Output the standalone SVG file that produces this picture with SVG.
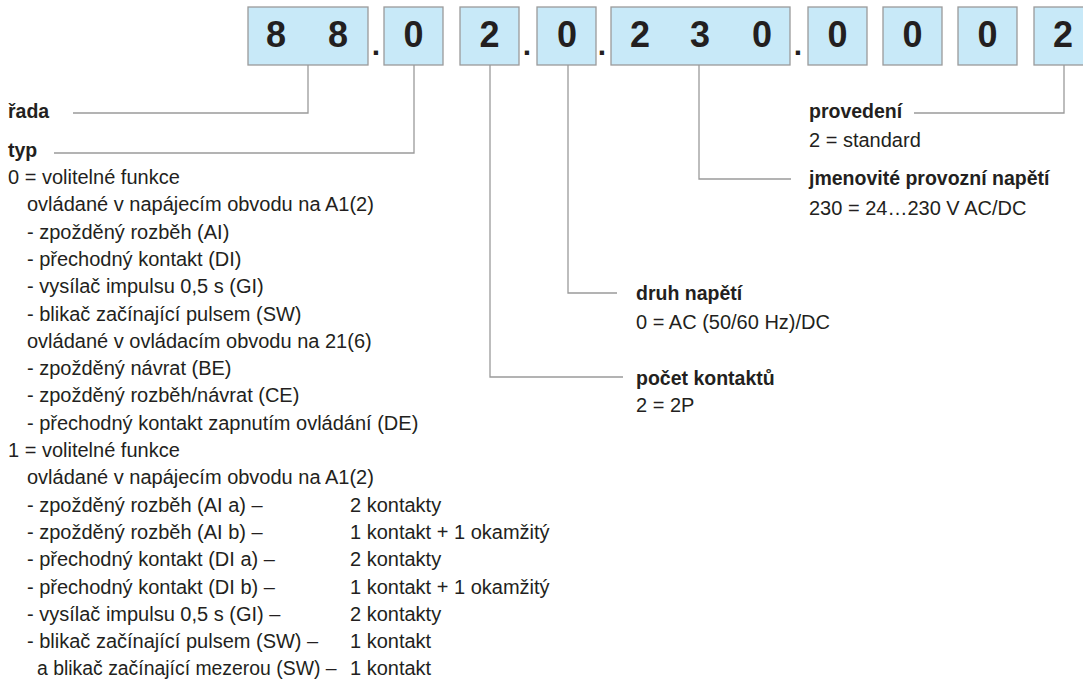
<svg xmlns="http://www.w3.org/2000/svg" width="1083" height="697" viewBox="0 0 1083 697">
<style>
.box{fill:#c8e9f8;stroke:#9a9a9a;stroke-width:1.3}
.dg{font-family:"Liberation Sans",Arial,sans-serif;font-weight:bold;font-size:36px;fill:#231f20;text-anchor:middle}
.dot{font-family:"Liberation Sans",Arial,sans-serif;font-weight:bold;font-size:30px;fill:#231f20;text-anchor:middle}
.t{font-family:"Liberation Sans",Arial,sans-serif;font-size:20px;fill:#231f20}
.b{font-family:"Liberation Sans",Arial,sans-serif;font-size:19.5px;font-weight:bold;fill:#231f20}
.ln{fill:none;stroke:#9a9a9a;stroke-width:1.3}
</style>
<rect width="1083" height="697" fill="#ffffff"/>
<g id="code">
<g id="box-88"><rect class="box" x="248" y="7" width="120" height="58"/><text class="dg" x="276" y="47">8</text><text class="dg" x="338" y="47">8</text></g>
<text class="dot" x="376" y="55">.</text>
<g id="box-typ"><rect class="box" x="384" y="7" width="59" height="58"/><text class="dg" x="413.5" y="47">0</text></g>
<g id="box-pocet"><rect class="box" x="460" y="7" width="59" height="58"/><text class="dg" x="489.5" y="47">2</text></g>
<text class="dot" x="527" y="55">.</text>
<g id="box-druh"><rect class="box" x="537" y="7" width="59" height="58"/><text class="dg" x="567" y="47">0</text></g>
<text class="dot" x="602" y="55">.</text>
<g id="box-230"><rect class="box" x="611" y="7" width="179" height="58"/><text class="dg" x="640" y="47">2</text><text class="dg" x="700" y="47">3</text><text class="dg" x="762" y="47">0</text></g>
<text class="dot" x="798" y="55">.</text>
<g id="box-0a"><rect class="box" x="808" y="7" width="59" height="58"/><text class="dg" x="837.5" y="47">0</text></g>
<g id="box-0b"><rect class="box" x="883" y="7" width="59" height="58"/><text class="dg" x="912.5" y="47">0</text></g>
<g id="box-0c"><rect class="box" x="958" y="7" width="59" height="58"/><text class="dg" x="987.5" y="47">0</text></g>
<g id="box-prov"><rect class="box" x="1034" y="7" width="59" height="58"/><text class="dg" x="1063" y="47">2</text></g>
</g>
<g id="connectors">
<path class="ln" d="M308,65 V113 H73"/>
<path class="ln" d="M414,65 V153 H54"/>
<path class="ln" d="M1064,65 V113 H914"/>
<path class="ln" d="M699,65 V179 H791"/>
<path class="ln" d="M568,65 V293 H617"/>
<path class="ln" d="M490,65 V377 H623"/>
</g>
<g id="label-rada"><text class="b" x="8" y="118">řada</text></g>
<g id="label-typ">
<text class="b" x="8" y="157">typ</text>
<text class="t" x="8" y="184">0 = volitelné funkce</text>
<text class="t" x="27" y="211.3">ovládané v napájecím obvodu na A1(2)</text>
<text class="t" x="27" y="238.6">- zpožděný rozběh (AI)</text>
<text class="t" x="27" y="265.9">- přechodný kontakt (DI)</text>
<text class="t" x="27" y="293.2">- vysílač impulsu 0,5 s (GI)</text>
<text class="t" x="27" y="320.5">- blikač začínající pulsem (SW)</text>
<text class="t" x="27" y="347.8">ovládané v ovládacím obvodu na 21(6)</text>
<text class="t" x="27" y="375.1">- zpožděný návrat (BE)</text>
<text class="t" x="27" y="402.4">- zpožděný rozběh/návrat (CE)</text>
<text class="t" x="27" y="429.7">- přechodný kontakt zapnutím ovládání (DE)</text>
<text class="t" x="8" y="457">1 = volitelné funkce</text>
<text class="t" x="27" y="484.3">ovládané v napájecím obvodu na A1(2)</text>
<text class="t" x="27" y="511.6">- zpožděný rozběh (AI a) –</text>
<text class="t" x="350" y="511.6">2 kontakty</text>
<text class="t" x="27" y="538.9">- zpožděný rozběh (AI b) –</text>
<text class="t" x="350" y="538.9">1 kontakt + 1 okamžitý</text>
<text class="t" x="27" y="566.2">- přechodný kontakt (DI a) –</text>
<text class="t" x="350" y="566.2">2 kontakty</text>
<text class="t" x="27" y="593.5">- přechodný kontakt (DI b) –</text>
<text class="t" x="350" y="593.5">1 kontakt + 1 okamžitý</text>
<text class="t" x="27" y="620.8">- vysílač impulsu 0,5 s (GI) –</text>
<text class="t" x="350" y="620.8">2 kontakty</text>
<text class="t" x="27" y="648.1">- blikač začínající pulsem (SW) –</text>
<text class="t" x="350" y="648.1">1 kontakt</text>
<text class="t" x="37" y="675.4" style="font-size:19.4px">a blikač začínající mezerou (SW) –</text>
<text class="t" x="350" y="675.4">1 kontakt</text>
</g>
<g id="label-provedeni">
<text class="b" x="809" y="118">provedení</text>
<text class="t" x="809" y="147">2 = standard</text>
</g>
<g id="label-napeti">
<text class="b" x="809" y="185">jmenovité provozní napětí</text>
<text class="t" x="809" y="215">230 = 24…230 V AC/DC</text>
</g>
<g id="label-druh">
<text class="b" x="636" y="300">druh napětí</text>
<text class="t" x="636" y="329">0 = AC (50/60 Hz)/DC</text>
</g>
<g id="label-pocet">
<text class="b" x="636" y="385">počet kontaktů</text>
<text class="t" x="636" y="412">2 = 2P</text>
</g>
</svg>
